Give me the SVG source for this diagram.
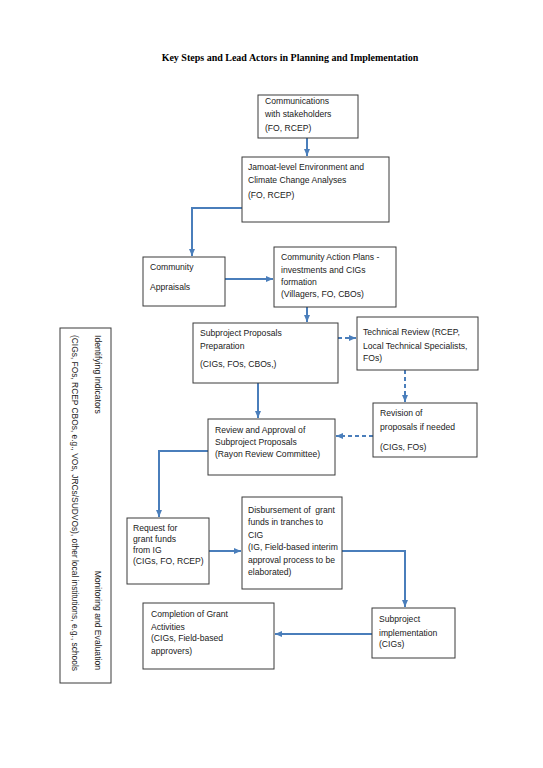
<svg xmlns="http://www.w3.org/2000/svg" width="543" height="768" viewBox="0 0 543 768">
<style>
.bx{fill:#fff;stroke:#3a3a3a;stroke-width:1}
.t{font-family:"Liberation Sans",Arial,sans-serif;font-size:8.6px;fill:#1a1a1a;white-space:pre}
.ttl{font-family:"Liberation Serif","Times New Roman",serif;font-size:10px;font-weight:bold;fill:#000}
.c{fill:none;stroke:#4a7ebb;stroke-width:2}
.d{stroke-dasharray:4 3}
</style>
<defs>
<marker id="ah" markerUnits="userSpaceOnUse" markerWidth="8" markerHeight="8" refX="7" refY="4" orient="auto">
<path d="M0,1 L7,4 L0,7 Z" fill="#4a7ebb"/>
</marker>
</defs>
<rect width="543" height="768" fill="#fff"/>
<text class="ttl" x="290" y="61" text-anchor="middle">Key Steps and Lead Actors in Planning and Implementation</text>

<g id="connectors">
<path class="c" d="M307,138 V156" marker-end="url(#ah)"/>
<path class="c" d="M242,208 H192 V256" marker-end="url(#ah)"/>
<path class="c" d="M225,279 H273" marker-end="url(#ah)"/>
<path class="c" d="M307,307 V322" marker-end="url(#ah)"/>
<path class="c d" d="M338,338 H356" marker-end="url(#ah)"/>
<path class="c d" d="M405,370 V402" marker-end="url(#ah)"/>
<path class="c" d="M258,383 V418" marker-end="url(#ah)"/>
<path class="c d" d="M373,436 H336" marker-end="url(#ah)"/>
<path class="c" d="M208,451 H159 V517" marker-end="url(#ah)"/>
<path class="c" d="M209,551 H241" marker-end="url(#ah)"/>
<path class="c" d="M342,551 H405 V607" marker-end="url(#ah)"/>
<path class="c" d="M372,634 H275" marker-end="url(#ah)"/>
</g>

<g id="n1"><rect class="bx" x="258" y="95" width="100" height="43"/>
<text class="t" x="265" y="104">Communications</text>
<text class="t" x="265" y="117">with stakeholders</text>
<text class="t" x="265" y="131">(FO, RCEP)</text></g>

<g id="n2"><rect class="bx" x="242" y="157" width="147" height="65"/>
<text class="t" x="248" y="170">Jamoat-level Environment and</text>
<text class="t" x="248" y="183">Climate Change Analyses</text>
<text class="t" x="248" y="198">(FO, RCEP)</text></g>

<g id="n3"><rect class="bx" x="143" y="257" width="82" height="49"/>
<text class="t" x="150" y="270">Community</text>
<text class="t" x="150" y="290">Appraisals</text></g>

<g id="n4"><rect class="bx" x="274" y="247" width="122" height="60"/>
<text class="t" x="281" y="260">Community Action Plans -</text>
<text class="t" x="281" y="273">investments and CIGs</text>
<text class="t" x="281" y="285">formation</text>
<text class="t" x="281" y="297">(Villagers, FO, CBOs)</text></g>

<g id="n5"><rect class="bx" x="193" y="323" width="145" height="60"/>
<text class="t" x="200" y="336">Subproject Proposals</text>
<text class="t" x="200" y="349">Preparation</text>
<text class="t" x="200" y="367">(CIGs, FOs, CBOs,)</text></g>

<g id="n6"><rect class="bx" x="357" y="317" width="121" height="53"/>
<text class="t" x="363" y="335">Technical Review (RCEP,</text>
<text class="t" x="363" y="349">Local Technical Specialists,</text>
<text class="t" x="363" y="361">FOs)</text></g>

<g id="n7"><rect class="bx" x="373" y="403" width="104" height="54"/>
<text class="t" x="380" y="416">Revision of</text>
<text class="t" x="380" y="430">proposals if needed</text>
<text class="t" x="380" y="450">(CIGs, FOs)</text></g>

<g id="n8"><rect class="bx" x="208" y="419" width="127" height="56"/>
<text class="t" x="215" y="433">Review and Approval of</text>
<text class="t" x="215" y="445">Subproject Proposals</text>
<text class="t" x="215" y="457">(Rayon Review Committee)</text></g>

<g id="n9"><rect class="bx" x="127" y="518" width="82" height="66"/>
<text class="t" x="133" y="531">Request for</text>
<text class="t" x="133" y="542">grant funds</text>
<text class="t" x="133" y="553">from IG</text>
<text class="t" x="133" y="564">(CIGs, FO, RCEP)</text></g>

<g id="n10"><rect class="bx" x="242" y="497" width="100" height="92"/>
<text class="t" x="248" y="513">Disbursement of  grant</text>
<text class="t" x="248" y="525">funds in tranches to</text>
<text class="t" x="248" y="538">CIG</text>
<text class="t" x="248" y="550">(IG, Field-based interim</text>
<text class="t" x="248" y="563">approval process to be</text>
<text class="t" x="248" y="575">elaborated)</text></g>

<g id="n11"><rect class="bx" x="372" y="608" width="83" height="50"/>
<text class="t" x="379" y="622">Subproject</text>
<text class="t" x="379" y="636">implementation</text>
<text class="t" x="379" y="647">(CIGs)</text></g>

<g id="n12"><rect class="bx" x="143" y="603" width="131" height="66"/>
<text class="t" x="151" y="617">Completion of Grant</text>
<text class="t" x="151" y="630">Activities</text>
<text class="t" x="151" y="641">(CIGs, Field-based</text>
<text class="t" x="151" y="654">approvers)</text></g>

<g id="n13"><rect class="bx" x="60" y="328" width="51" height="355"/>
<text class="t" transform="translate(95,335) rotate(90)">Identifying Indicators</text>
<text class="t" transform="translate(95,670) rotate(90)" text-anchor="end">Monitoring and Evaluation</text>
<text class="t" transform="translate(72,335) rotate(90)" textLength="336" lengthAdjust="spacingAndGlyphs">(CIGs, FOs, RCEP CBOs, e.g., VOs, JRCs/SUDVOs), other local institutions, e.g., schools</text></g>
</svg>
